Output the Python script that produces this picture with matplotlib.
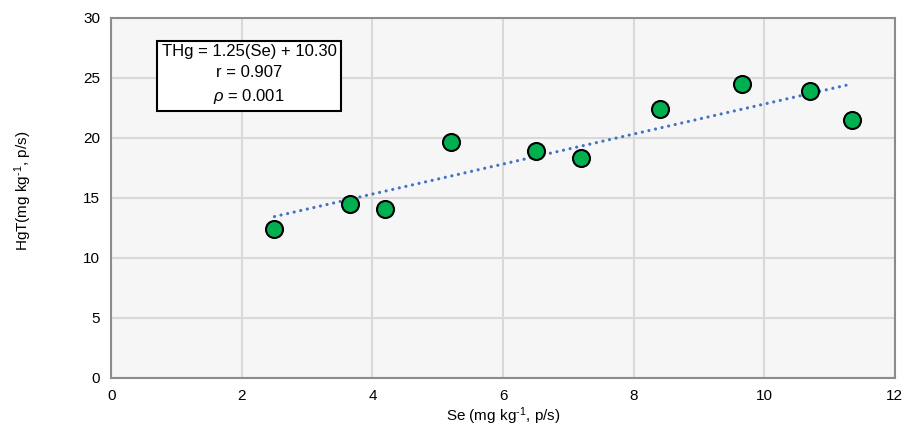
import matplotlib.pyplot as plt
import numpy as np

plt.rcParams['font.family'] = ['Liberation Sans', 'DejaVu Sans']
plt.rcParams['mathtext.fontset'] = 'custom'
plt.rcParams['mathtext.rm'] = 'Liberation Sans'
plt.rcParams['mathtext.it'] = 'Liberation Sans:italic'

# dati
se  = [2.50, 3.65, 4.20, 5.20, 6.50, 7.20, 8.40, 9.66, 10.70, 11.35]
hgt = [12.4, 14.5, 14.05, 19.6, 18.85, 18.3, 22.4, 24.5, 23.9, 21.5]

# retta di regressione (dal riquadro)
slope, intercept = 1.25, 10.30
r_val, p_val = 0.907, 0.001

fig = plt.figure(figsize=(9.16, 4.38), dpi=100)
ax = fig.add_axes([0.1214, 0.1377, 0.8555, 0.822])
ax.set_facecolor('#f6f6f6')

xs = np.array([min(se), max(se)])
ax.plot(xs, slope*xs + intercept, ls=(0, (0.01, 2.1)), color='#4472C4',
        lw=2.3, dash_capstyle='round', zorder=3)
ax.scatter(se, hgt, s=150, color='#00B050', edgecolors='black',
           linewidths=1.5, zorder=4)

ax.set_xlim(0, 12)
ax.set_ylim(0, 30)
ax.set_xticks(range(0, 13, 2))
ax.set_yticks(range(0, 31, 5))
ax.grid(color='#d9d9d9', lw=1.5)
ax.set_axisbelow(True)
ax.tick_params(length=0, labelsize=11, pad=8)
for s in ax.spines.values():
    s.set_color('#8c8c8c')
    s.set_linewidth(1.5)

ax.set_xlabel(r'Se (mg kg$^{\text{-}1}$, p/s)', fontsize=11, labelpad=2)
ax.set_ylabel(r'HgT(mg kg$^{\text{-}1}$, p/s)', fontsize=11)
ax.yaxis.set_label_coords(-0.099, 0.52)

testo = ('THg = %.2f(Se) + %.2f\nr = %.3f\n$\\rho$ = %.3f'
         % (slope, intercept, r_val, p_val))
ax.text(2.11, 25.2, testo, ha='center', va='center', fontsize=12,
        linespacing=1.5,
        bbox=dict(boxstyle='square,pad=0.3', facecolor='white',
                  edgecolor='black', lw=1.5))

fig.savefig('out.png')
